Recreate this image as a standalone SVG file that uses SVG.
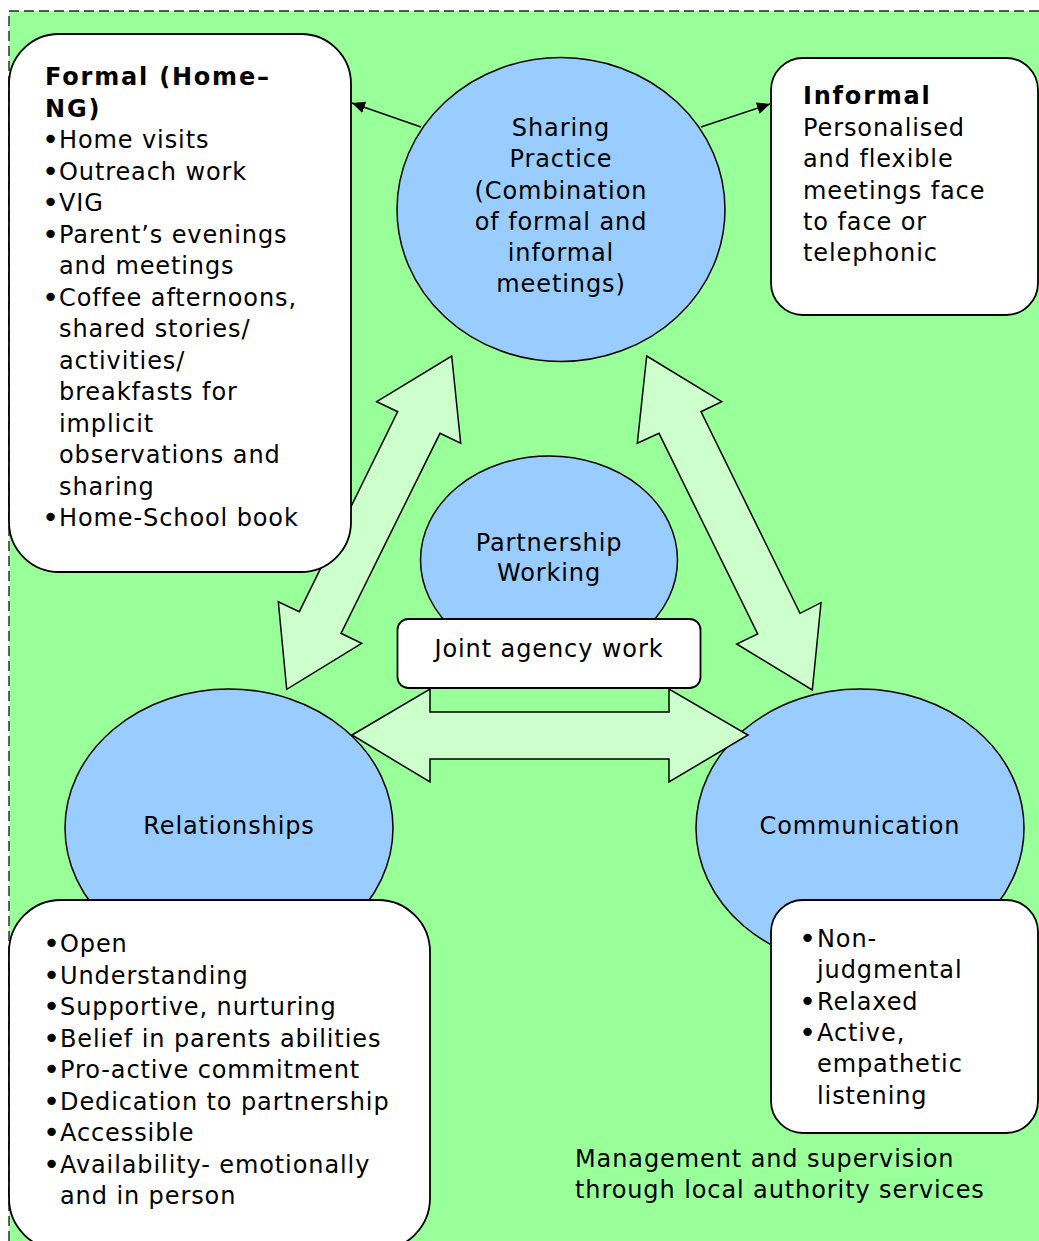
<svg xmlns="http://www.w3.org/2000/svg" width="1039" height="1241" viewBox="0 0 1039 1241">
  <style>
    text { font-family: "DejaVu Sans", Verdana, sans-serif; font-size: 24px; letter-spacing: 0.9px; fill: #000; }
    .b { font-weight: bold; letter-spacing: 1.8px; }
    .c { text-anchor: middle; }
    .bl { font-size: 29px; letter-spacing: 0; }
    .ell { fill: #99CCFF; stroke: #000; stroke-width: 1.5; }
    .box { fill: #FFFFFF; stroke: #000; stroke-width: 1.8; }
    .dbl { fill: #CCFFCC; stroke: #000; stroke-width: 1.5; stroke-linejoin: miter; }
    .thin { stroke: #000; stroke-width: 1.5; fill: none; marker-end: url(#ah); }
  </style>
  <defs>
    <marker id="ah" markerUnits="userSpaceOnUse" markerWidth="14" markerHeight="12" refX="13" refY="6" orient="auto">
      <path d="M0,0 L13,6 L0,12 Z" fill="#000"/>
    </marker>
  </defs>

  <g id="background">
    <rect x="9" y="11" width="1040" height="1240" fill="#99FF99"/>
    <path d="M1039,11 L9,11 L9,1241" fill="none" stroke="#222" stroke-width="1.4" stroke-dasharray="10 5"/>
  </g>

  <g id="connectors">
    <polygon id="arrow-left-diag" class="dbl" points="451.7,356 460.7,443.3 440,433.3 341,633.3 361.7,643.3 286.7,689.3 278.3,601.7 299.3,611.7 397.7,411.7 376.7,401.7"/>
    <polygon id="arrow-right-diag" class="dbl" points="646.7,356 721.7,401.7 701,411.7 800,613.3 821,602.7 812.3,690 736.7,644 757.7,634 659,433.3 637.3,443.3"/>
    <line class="thin" x1="421" y1="127" x2="352" y2="103"/>
    <line class="thin" x1="701" y1="127" x2="770" y2="104"/>
  </g>

  <g id="formal">
    <rect class="box" x="9" y="34" width="342" height="538" rx="50"/>
    <text class="b" x="45" y="85">Formal (Home–</text>
    <text class="b" x="45" y="117">NG)</text>
    <text class="bl" x="42" y="149">•</text><text x="59" y="148">Home visits</text>
    <text class="bl" x="42" y="181">•</text><text x="59" y="180">Outreach work</text>
    <text class="bl" x="42" y="212">•</text><text x="59" y="211">VIG</text>
    <text class="bl" x="42" y="244">•</text><text x="59" y="243">Parent’s evenings</text>
    <text x="59" y="274">and meetings</text>
    <text class="bl" x="42" y="307">•</text><text x="59" y="306">Coffee afternoons,</text>
    <text x="59" y="337">shared stories/</text>
    <text x="59" y="369">activities/</text>
    <text x="59" y="400">breakfasts for</text>
    <text x="59" y="432">implicit</text>
    <text x="59" y="463">observations and</text>
    <text x="59" y="495">sharing</text>
    <text class="bl" x="42" y="527">•</text><text x="59" y="526">Home-School book</text>
  </g>

  <g id="sharing-practice">
    <ellipse class="ell" cx="561" cy="209.5" rx="164" ry="152"/>
    <text class="c" x="561" y="136">Sharing</text>
    <text class="c" x="561" y="167">Practice</text>
    <text class="c" x="561" y="198.5">(Combination</text>
    <text class="c" x="561" y="229.5">of formal and</text>
    <text class="c" x="561" y="261">informal</text>
    <text class="c" x="561" y="292">meetings)</text>
  </g>

  <g id="informal">
    <rect class="box" x="771" y="58" width="267" height="257" rx="32"/>
    <text class="b" x="803" y="104">Informal</text>
    <text x="803" y="136">Personalised</text>
    <text x="803" y="167">and flexible</text>
    <text x="803" y="198.5">meetings face</text>
    <text x="803" y="229.5">to face or</text>
    <text x="803" y="261">telephonic</text>
  </g>

  <g id="partnership-working">
    <ellipse class="ell" cx="549" cy="560" rx="128.5" ry="104"/>
    <text class="c" x="549" y="551">Partnership</text>
    <text class="c" x="549" y="581">Working</text>
  </g>

  <g id="relationships">
    <ellipse class="ell" cx="229" cy="828" rx="164" ry="139"/>
    <text class="c" x="229" y="834">Relationships</text>
  </g>

  <g id="communication">
    <ellipse class="ell" cx="860" cy="828" rx="164" ry="139"/>
    <text class="c" x="860" y="834">Communication</text>
  </g>

  <g id="arrow-horizontal">
    <polygon class="dbl" points="352,735 430,689 430,712 669,712 669,689 748,735 669,782 669,759 430,759 430,782"/>
  </g>

  <g id="joint-agency-work">
    <rect class="box" x="397.5" y="619" width="303" height="69" rx="11"/>
    <text class="c" x="549" y="657">Joint agency work</text>
  </g>

  <g id="relationships-qualities">
    <rect class="box" x="9" y="900" width="421" height="350" rx="52"/>
    <text class="bl" x="43" y="953">•</text><text x="60" y="952">Open</text>
    <text class="bl" x="43" y="984.5">•</text><text x="60" y="983.5">Understanding</text>
    <text class="bl" x="43" y="1016">•</text><text x="60" y="1015">Supportive, nurturing</text>
    <text class="bl" x="43" y="1047.5">•</text><text x="60" y="1046.5">Belief in parents abilities</text>
    <text class="bl" x="43" y="1079">•</text><text x="60" y="1078">Pro-active commitment</text>
    <text class="bl" x="43" y="1110.5">•</text><text x="60" y="1109.5">Dedication to partnership</text>
    <text class="bl" x="43" y="1142">•</text><text x="60" y="1141">Accessible</text>
    <text class="bl" x="43" y="1173.5">•</text><text x="60" y="1172.5">Availability- emotionally</text>
    <text x="60" y="1204">and in person</text>
  </g>

  <g id="communication-qualities">
    <rect class="box" x="771" y="900" width="267" height="233" rx="32"/>
    <text class="bl" x="799" y="948">•</text><text x="817" y="947">Non-</text>
    <text x="817" y="978">judgmental</text>
    <text class="bl" x="799" y="1010.5">•</text><text x="817" y="1009.5">Relaxed</text>
    <text class="bl" x="799" y="1042">•</text><text x="817" y="1041">Active,</text>
    <text x="817" y="1072">empathetic</text>
    <text x="817" y="1103.5">listening</text>
  </g>

  <g id="management-note">
    <text x="575" y="1167">Management and supervision</text>
    <text x="575" y="1198">through local authority services</text>
  </g>
</svg>
